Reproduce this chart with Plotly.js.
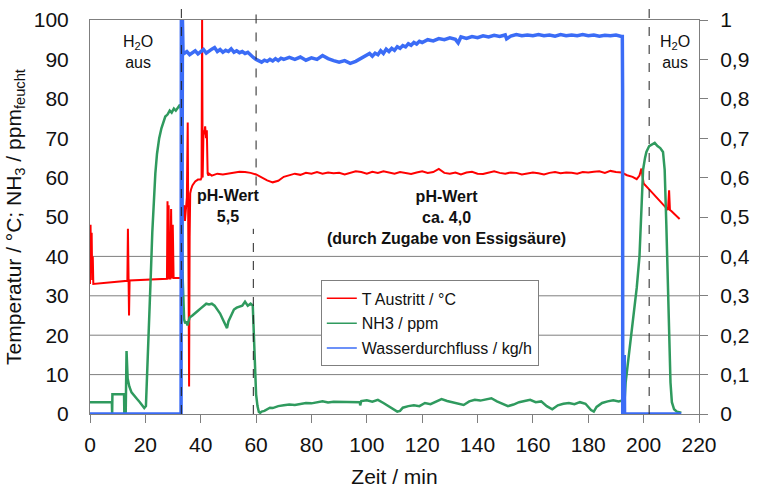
<!DOCTYPE html>
<html>
<head>
<meta charset="utf-8">
<script src="https://cdn.plot.ly/plotly-3.0.1.min.js"></script>
<style>html,body{margin:0;padding:0;background:#fff;}#chart{width:758px;height:491px;}</style>
</head>
<body>
<div id="chart"></div>
<script>
// Zeit / min and T Austritt / °C
var tempX = [0,0.2,0.4,0.6,0.8,1.0,1.2,5,10,13.5,13.7,13.9,14.1,14.3,20,25,27.8,28.0,28.2,28.4,28.6,29.0,29.3,29.6,29.9,30.2,30.5,32.8,
  33.0,33.2,33.4,33.7,34.0,34.3,34.6,35.0,35.3,35.6,35.8,36.0,36.2,36.5,37,38,39,40,40.3,40.5,40.7,41.0,41.3,41.6,41.9,42.2,42.5,42.8,
  43,44,46,48,50,52,54,56,58,60,62,64,66,68,70,72,74,76,78,80,82,84,86,88,90,92,94,96,98,100,102,104,106,108,110,112,114,116,118,
  120,122,124,126,128,130,132,134,136,138,140,142,144,146,148,150,152,154,156,158,160,162,164,166,168,170,172,174,176,178,180,182,
  184,186,188,190,192,194,196,197.5,198.5,199.2,199.6,200,202,204,206,208,208.8,209.2,209.5,210,212,213];
var tempY = [33,48,36,46,34,40,33,33.3,33.6,33.8,47,33.8,25,33.9,34.0,34.2,34.3,54,34.3,53,34.4,34.4,52,34.4,48,34.5,34.5,34.5,
  40,48,51,50,53,49,52,55,74,30,7,45,56,57,58,59,59.5,59.5,60,100,60,72,71,73,70,72,61,60.5,
  61,60.5,61,60.8,61,61.3,61.5,61.4,61.2,60.8,60,59.3,58.8,59.2,60.2,60.6,61,60.7,61.2,61,61.4,61,61.3,61.1,61.2,60.8,61.3,61.6,61.4,61,61.5,61.2,61.6,61.3,61,61.4,61.2,60.9,61.3,
  61.6,61.2,61.4,62.2,61.2,61.0,61.3,60.8,61.3,61.5,61.0,60.9,61.3,61.6,61.2,61,61.3,61.2,60.8,61,61.3,61.1,60.8,61.2,61.4,61.1,61.3,61.2,61,61.4,61.3,61.5,
  61.6,61.2,61.7,61.4,61.3,60.6,60.2,59.6,60.5,62.3,60,58.5,57,55.5,53.8,52.3,51.8,56.8,51.8,51.5,50.2,49.5];

// NH3 / ppm
var nh3X = [0,7.9,8.0,8.1,12.3,12.4,12.9,13.2,13.6,14.2,15,16,17,18,19,19.6,20.2,20.8,21.4,22,22.5,23,23.6,24.2,25,25.8,26.5,27.2,28,28.8,29.5,30.3,31,31.8,32.5,
  33,33.2,33.4,33.7,34.0,34.4,34.8,35.2,35.6,36,37,38,39,40,41,42,43,44,45,46,47,48,49,49.5,50,51,52,53,54,55,56,57,58,58.8,59.2,59.6,60,60.5,61,61.5,
  62,63,64,65,66,68,70,72,74,76,78,80,82,84,86,88,97.5,97.6,98,100,102,104,106,108,110,111,112,113,115,117,119,121,123,125,127,129,131,133,135,137,139,
  141,143,145,147,149,151,153,155,157,159,161,163,165,167,169,171,173,175,177,179,181,182,183,185,187,189,191,192.5,193,193.5,194.5,195.5,196.5,197.5,
  198.5,199.2,199.8,200.5,201,202,203,204,205,206,207,207.6,208.2,208.7,209.2,209.7,210.2,211,212,213.6];
var nh3Y = [3,3,0,5,5,0,0,16,9,7,5.5,4.5,3.8,3,2,1.5,2,12,24,36,46,55,61,66,70,72.5,74,75.5,76,77,76.5,77.5,77,78,78.5,
  77,50,36,30,24,23,23.5,22.5,24,24.5,25,25.5,26.2,26.8,27.5,28,27.8,28,27.5,26.5,25.5,24,22.5,21.8,23.5,25,26.5,27,27.3,27.5,28.5,27.5,28,27.5,20,11,5,2,0.5,0.3,
  0.6,0.8,1.2,1.6,1.5,2,2.2,2.4,2.3,2.6,2.8,2.7,3.0,3.2,2.9,3.1,3.0,2.2,3.3,3.5,3.1,3.6,2.8,2.0,1.2,0.6,0.8,1.6,2.0,2.2,2.0,2.8,2.5,3.2,3.8,3.3,3.0,2.6,2.3,3.2,3.6,
  3.4,3.7,4.0,3.2,2.5,2.0,2.4,3.0,3.3,3.6,3.0,3.2,2.0,1.2,2.2,2.6,2.8,2.5,3.0,2.6,1.0,0.6,1.8,2.8,3.2,3.5,3.2,3.5,2,8,14,20,26,32,
  40,50,62,65,66.5,68,68.5,68.8,68,67.5,66.5,62,48,34,20,8,3,1.2,0.6,0.3];

// Wasserdurchfluss / kg/h
var flowX = [0,32.9,33.0,33.2,33.4,33.6,34,35,36,37,38,39,40,41,42,43,44,45,46,47,48,49,50,51,52,53,54,55,56,57,58,59,60,61,62,63,64,65,66,67,68,69,70,
  72,74,76,78,80,82,84,86,88,90,92,94,96,98,100,101,102,103,104,105,106,107,108,109,110,111,112,113,114,115,116,117,118,119,120,122,124,126,128,130,
  132,133,134,136,138,140,142,144,146,148,150,150.5,152,154,156,158,160,162,164,166,168,170,172,174,176,178,180,182,184,186,188,190,192,192.3,192.4,192.45,192.9,193.0,193.1,213.6];
var flowY = [0,0,1.0,0.3,1.0,0.92,0.915,0.92,0.912,0.918,0.922,0.914,0.92,0.925,0.916,0.922,0.926,0.93,0.92,0.925,0.918,0.923,0.92,0.927,0.918,0.922,0.917,0.92,0.915,0.918,0.91,0.905,0.9,0.896,0.893,0.898,0.895,0.9,0.896,0.902,0.897,0.903,0.9,
  0.905,0.9,0.906,0.898,0.904,0.9,0.91,0.902,0.897,0.893,0.897,0.89,0.895,0.903,0.91,0.915,0.908,0.916,0.912,0.922,0.915,0.926,0.92,0.928,0.923,0.932,0.928,0.935,0.932,0.94,0.936,0.943,0.939,0.946,0.943,0.95,0.947,0.953,0.95,0.955,
  0.951,0.942,0.957,0.953,0.958,0.955,0.96,0.957,0.961,0.958,0.962,0.952,0.959,0.963,0.96,0.962,0.96,0.963,0.96,0.962,0.959,0.963,0.96,0.962,0.96,0.963,0.96,0.962,0.959,0.961,0.96,0.962,0.958,0.958,0.82,0,0,0.15,0,0];

var seriesNames = ['T Austritt / °C', 'NH3 / ppm', 'Wasserdurchfluss / kg/h'];
var seriesColors = ['#ff0000', '#2f9a5e', '#3b6cf6'];

var xTicks = [0,20,40,60,80,100,120,140,160,180,200,220];
var yTicks = [0,10,20,30,40,50,60,70,80,90,100];
var y2Ticks = [0,0.1,0.2,0.3,0.4,0.5,0.6,0.7,0.8,0.9,1];
var gridLevels = [10,20,30,40];
var phaseLines = [33, 202];

var FONT = 'Liberation Sans, Arial, sans-serif';
var GRAY = '#7f7f7f';

var traces = [
  {x: tempX, y: tempY, type: 'scatter', mode: 'lines', name: seriesNames[0], showlegend: false,
   line: {color: seriesColors[0], width: 2}},
  {x: nh3X, y: nh3Y, type: 'scatter', mode: 'lines', name: seriesNames[1], showlegend: false,
   line: {color: seriesColors[1], width: 2.5}},
  {x: flowX, y: flowY, type: 'scatter', mode: 'lines', name: seriesNames[2], showlegend: false,
   yaxis: 'y2', line: {color: seriesColors[2], width: 3.5}}
];
// legend entries with thin sample lines (no data drawn)
seriesNames.forEach(function (n, i) {
  traces.push({x: [null], y: [null], type: 'scatter', mode: 'lines', name: n, legendgroup: 'g' + i,
    showlegend: true, line: {color: seriesColors[i], width: 1.5}});
});

var shapes = [];
gridLevels.forEach(function (g) {
  shapes.push({type: 'line', xref: 'paper', yref: 'y', x0: 0, x1: 1, y0: g, y1: g, layer: 'below',
    line: {color: GRAY, width: 1}});
});
phaseLines.forEach(function (p) {
  shapes.push({type: 'line', xref: 'x', yref: 'paper', x0: p, x1: p, y0: 0, y1: 1.04,
    line: {color: '#222', width: 1, dash: 'dash'}});
});
shapes.push({type: 'line', xref: 'x', yref: 'paper', x0: 60, x1: 60, y0: 0.58, y1: 1.035,
  line: {color: '#222', width: 1, dash: 'dash'}});
shapes.push({type: 'line', xref: 'x', yref: 'paper', x0: 59, x1: 59, y0: 0, y1: 0.47,
  line: {color: '#222', width: 1, dash: 'dash'}});

var annFont = {family: FONT, size: 16, color: '#111'};
var annotations = [
  {x: 17.3, y: 92, xref: 'x', yref: 'y', text: 'H<sub>2</sub>O<br>aus', showarrow: false, font: annFont},
  {x: 211.2, y: 92, xref: 'x', yref: 'y', text: 'H<sub>2</sub>O<br>aus', showarrow: false, font: annFont},
  {x: 50.2, y: 52.8, xref: 'x', yref: 'y', text: '<b>pH-Wert</b><br><b>5,5</b>', showarrow: false, font: annFont},
  {x: 128.9, y: 50, xref: 'x', yref: 'y', text: '<b>pH-Wert</b><br><b>ca. 4,0</b><br><b>(durch Zugabe von Essigsäure)</b>', showarrow: false, font: annFont}
];

var layout = {
  width: 758, height: 491,
  margin: {l: 90, r: 59, t: 20, b: 77},
  paper_bgcolor: '#fff', plot_bgcolor: '#fff',
  separators: ',.',
  font: {family: FONT, size: 21, color: '#111'},
  showlegend: true,
  legend: {x: 0.379, y: 0.339, xanchor: 'left', yanchor: 'top', bgcolor: '#fff',
    bordercolor: GRAY, borderwidth: 1, font: {family: FONT, size: 16, color: '#111'},
    tracegroupgap: 1, itemwidth: 30},
  xaxis: {range: [0, 220], tickvals: xTicks, ticks: 'outside', ticklen: 8, tickcolor: GRAY,
    showline: true, linecolor: GRAY, mirror: true, showgrid: false, zeroline: false,
    ticklabelstandoff: 4,
    title: {text: 'Zeit / min', font: {family: FONT, size: 21}, standoff: 14}},
  yaxis: {range: [0, 100], tickvals: yTicks, ticks: '', showline: true, linecolor: GRAY, mirror: true,
    showgrid: false, zeroline: false, ticklabelstandoff: 16,
    title: {text: 'Temperatur / °C; NH<sub>3</sub> / ppm<sub>feucht</sub>', font: {family: FONT, size: 21}, standoff: 6}},
  yaxis2: {range: [0, 1], tickvals: y2Ticks, overlaying: 'y', side: 'right', ticks: 'outside', ticklen: 8,
    tickcolor: GRAY, showline: true, linecolor: GRAY, showgrid: false, zeroline: false, ticklabelstandoff: 8},
  shapes: shapes,
  annotations: annotations
};

Plotly.newPlot('chart', traces, layout, {displayModeBar: false, staticPlot: true});
</script>
</body>
</html>
